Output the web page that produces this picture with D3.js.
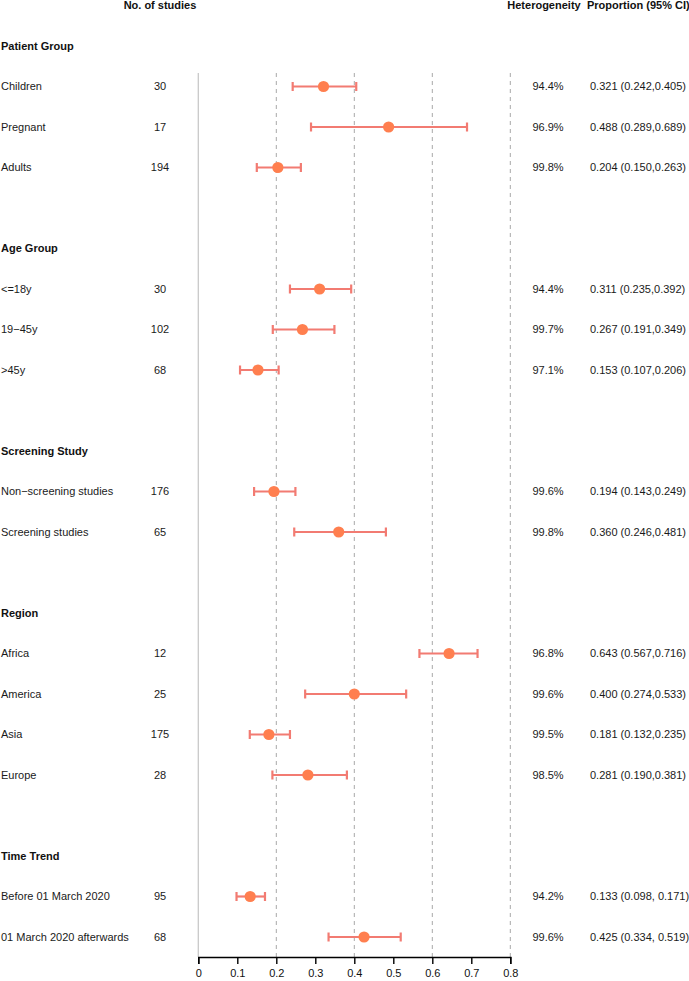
<!DOCTYPE html>
<html>
<head>
<meta charset="utf-8">
<script src="https://cdn.jsdelivr.net/npm/d3@7"></script>
<style>
  html, body { margin: 0; padding: 0; background: #fff; }
  svg { display: block; font-family: "Liberation Sans", Arial, Helvetica, sans-serif; }
</style>
</head>
<body>
<svg id="chart" width="689" height="981"></svg>
<script>
// ---- data ----
const groupNames = ["Patient Group", "Age Group", "Screening Study", "Region", "Time Trend"];
const rowGroup   = [0, 0, 0, 1, 1, 1, 2, 2, 3, 3, 3, 3, 4, 4];
const rowLabels  = ["Children", "Pregnant", "Adults",
                    "<=18y", "19\u221245y", ">45y",
                    "Non\u2212screening studies", "Screening studies",
                    "Africa", "America", "Asia", "Europe",
                    "Before 01 March 2020", "01 March 2020 afterwards"];
const nStudies   = [30, 17, 194, 30, 102, 68, 176, 65, 12, 25, 175, 28, 95, 68];
const hetero     = ["94.4%", "96.9%", "99.8%", "94.4%", "99.7%", "97.1%", "99.6%", "99.8%",
                    "96.8%", "99.6%", "99.5%", "98.5%", "94.2%", "99.6%"];
const estimate   = [0.321, 0.488, 0.204, 0.311, 0.267, 0.153, 0.194, 0.360, 0.643, 0.400, 0.181, 0.281, 0.133, 0.425];
const lower      = [0.242, 0.289, 0.150, 0.235, 0.191, 0.107, 0.143, 0.246, 0.567, 0.274, 0.132, 0.190, 0.098, 0.334];
const upper      = [0.405, 0.689, 0.263, 0.392, 0.349, 0.206, 0.249, 0.481, 0.716, 0.533, 0.235, 0.381, 0.171, 0.519];
const ciText     = ["0.321 (0.242,0.405)", "0.488 (0.289,0.689)", "0.204 (0.150,0.263)",
                    "0.311 (0.235,0.392)", "0.267 (0.191,0.349)", "0.153 (0.107,0.206)",
                    "0.194 (0.143,0.249)", "0.360 (0.246,0.481)",
                    "0.643 (0.567,0.716)", "0.400 (0.274,0.533)", "0.181 (0.132,0.235)", "0.281 (0.190,0.381)",
                    "0.133 (0.098, 0.171)", "0.425 (0.334, 0.519)"];
const xTicks     = [0, 0.1, 0.2, 0.3, 0.4, 0.5, 0.6, 0.7, 0.8];
const refLines   = [0.2, 0.4, 0.6, 0.8];
const headers    = ["No. of studies", "Heterogeneity", "Proportion (95% CI)"];

// ---- layout: build row sequence (header row, group rows, blank spacer rows) ----
const rows = [];
groupNames.forEach((g, gi) => {
  if (gi > 0) rows.push({ type: "blank", key: "blank" + gi });
  rows.push({ type: "group", key: "g" + gi, text: g });
  rowLabels.forEach((lab, i) => {
    if (rowGroup[i] === gi) rows.push({ type: "item", key: "r" + i, i });
  });
});

const svg = d3.select("#chart");
const y = d3.scalePoint()
  .domain(["header"].concat(rows.map(r => r.key)))
  .range([5.5, 937]);
const x = d3.scaleLinear().domain([0, 0.8]).range([198.3, 510.3]);

const colLabel = 1, colN = 160, colHet = 548, colCI = 590;
const axisY = 957;
const lineTop = 73;
const fs = 11;

// vertical zero line
svg.append("line")
  .attr("x1", x(0)).attr("x2", x(0))
  .attr("y1", lineTop).attr("y2", axisY)
  .attr("stroke", "#c9c9c9").attr("stroke-width", 1.3);

// dashed reference lines
svg.selectAll("line.ref").data(refLines).enter().append("line")
  .attr("class", "ref")
  .attr("x1", d => x(d)).attr("x2", d => x(d))
  .attr("y1", lineTop).attr("y2", axisY)
  .attr("stroke", "#a8a8a8").attr("stroke-width", 1)
  .attr("stroke-dasharray", "4,4");

// header
svg.append("text").attr("x", colN).attr("y", y("header")).attr("dy", "0.35em")
  .attr("text-anchor", "middle").attr("font-weight", "bold").attr("font-size", fs)
  .attr("fill", "#111").text(headers[0]);
svg.append("text").attr("x", 544).attr("y", y("header")).attr("dy", "0.35em")
  .attr("text-anchor", "middle").attr("font-weight", "bold").attr("font-size", fs)
  .attr("fill", "#111").text(headers[1]);
svg.append("text").attr("x", 587).attr("y", y("header")).attr("dy", "0.35em")
  .attr("text-anchor", "start").attr("font-weight", "bold").attr("font-size", fs)
  .attr("fill", "#111").text(headers[2]);

// group headings
svg.selectAll("text.group").data(rows.filter(r => r.type === "group")).enter().append("text")
  .attr("class", "group")
  .attr("x", colLabel).attr("y", d => y(d.key)).attr("dy", "0.35em")
  .attr("font-weight", "bold").attr("font-size", fs).attr("fill", "#111")
  .text(d => d.text);

const items = rows.filter(r => r.type === "item");

// item labels
svg.selectAll("text.lab").data(items).enter().append("text")
  .attr("class", "lab")
  .attr("x", colLabel).attr("y", d => y(d.key)).attr("dy", "0.35em")
  .attr("font-size", fs).attr("fill", "#1a1a1a")
  .text(d => rowLabels[d.i]);

svg.selectAll("text.n").data(items).enter().append("text")
  .attr("class", "n")
  .attr("x", colN).attr("y", d => y(d.key)).attr("dy", "0.35em")
  .attr("text-anchor", "middle").attr("font-size", fs).attr("fill", "#1a1a1a")
  .text(d => nStudies[d.i]);

svg.selectAll("text.het").data(items).enter().append("text")
  .attr("class", "het")
  .attr("x", colHet).attr("y", d => y(d.key)).attr("dy", "0.35em")
  .attr("text-anchor", "middle").attr("font-size", fs).attr("fill", "#1a1a1a")
  .text(d => hetero[d.i]);

svg.selectAll("text.ci").data(items).enter().append("text")
  .attr("class", "ci")
  .attr("x", colCI).attr("y", d => y(d.key)).attr("dy", "0.35em")
  .attr("font-size", fs).attr("fill", "#1a1a1a")
  .text(d => ciText[d.i]);

// error bars
const errColor = "#F27B72", ptColor = "#FF7F4F";
const eb = svg.selectAll("g.eb").data(items).enter().append("g").attr("class", "eb");
eb.append("line")
  .attr("x1", d => x(lower[d.i])).attr("x2", d => x(upper[d.i]))
  .attr("y1", d => y(d.key)).attr("y2", d => y(d.key))
  .attr("stroke", errColor).attr("stroke-width", 2.2);
eb.append("line")
  .attr("x1", d => x(lower[d.i])).attr("x2", d => x(lower[d.i]))
  .attr("y1", d => y(d.key) - 4.5).attr("y2", d => y(d.key) + 4.5)
  .attr("stroke", errColor).attr("stroke-width", 2.2);
eb.append("line")
  .attr("x1", d => x(upper[d.i])).attr("x2", d => x(upper[d.i]))
  .attr("y1", d => y(d.key) - 4.5).attr("y2", d => y(d.key) + 4.5)
  .attr("stroke", errColor).attr("stroke-width", 2.2);
eb.append("circle")
  .attr("cx", d => x(estimate[d.i])).attr("cy", d => y(d.key))
  .attr("r", 5.6).attr("fill", ptColor);

// axis
const axis = d3.axisBottom(x).tickValues(xTicks).tickSize(7).tickPadding(5)
  .tickFormat(d => d === 0 ? "0" : d3.format(".1f")(d));
const ag = svg.append("g").attr("transform", `translate(0,${axisY})`).call(axis);
ag.select(".domain").attr("stroke", "#000").attr("stroke-width", 1.4);
ag.selectAll(".tick line").attr("stroke", "#000").attr("stroke-width", 1.4);
ag.selectAll(".tick text").attr("font-size", fs).attr("fill", "#111")
  .attr("font-family", "Liberation Sans, Arial, sans-serif");
</script>
</body>
</html>
